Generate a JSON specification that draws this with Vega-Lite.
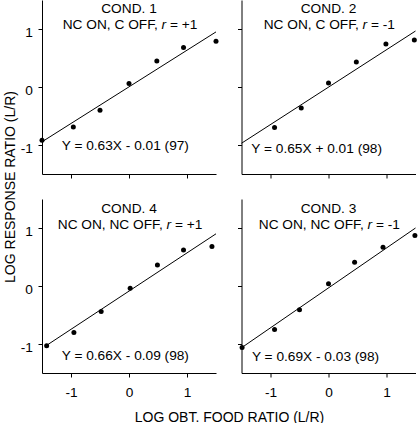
{
  "$schema": "https://vega.github.io/schema/vega-lite/v6.json",
  "padding": {"left": 3, "top": 0, "right": 0, "bottom": 0},
  "background": "white",
  "datasets": {
    "pts": [
      {"cond": 1, "x": -1.5, "y": -0.92}, {"cond": 1, "x": -0.96, "y": -0.69}, {"cond": 1, "x": -0.5, "y": -0.4}, {"cond": 1, "x": 0.0, "y": 0.06}, {"cond": 1, "x": 0.48, "y": 0.45}, {"cond": 1, "x": 0.94, "y": 0.68}, {"cond": 1, "x": 1.5, "y": 0.79},
      {"cond": 2, "x": -0.93, "y": -0.7}, {"cond": 2, "x": -0.47, "y": -0.36}, {"cond": 2, "x": 0.0, "y": 0.07}, {"cond": 2, "x": 0.48, "y": 0.43}, {"cond": 2, "x": 0.99, "y": 0.74}, {"cond": 2, "x": 1.48, "y": 0.81},
      {"cond": 4, "x": -1.42, "y": -1.03}, {"cond": 4, "x": -0.95, "y": -0.8}, {"cond": 4, "x": -0.48, "y": -0.44}, {"cond": 4, "x": 0.02, "y": -0.04}, {"cond": 4, "x": 0.49, "y": 0.36}, {"cond": 4, "x": 0.94, "y": 0.62}, {"cond": 4, "x": 1.43, "y": 0.68},
      {"cond": 3, "x": -1.49, "y": -1.06}, {"cond": 3, "x": -0.93, "y": -0.75}, {"cond": 3, "x": -0.5, "y": -0.41}, {"cond": 3, "x": 0.0, "y": 0.04}, {"cond": 3, "x": 0.45, "y": 0.41}, {"cond": 3, "x": 0.94, "y": 0.67}, {"cond": 3, "x": 1.49, "y": 0.87}
    ],
    "fit": [
      {"cond": 1, "x": -1.5, "y": -0.945}, {"cond": 1, "x": 1.5, "y": 0.95},
      {"cond": 2, "x": -1.5, "y": -0.97}, {"cond": 2, "x": 1.5, "y": 0.965},
      {"cond": 4, "x": -1.43, "y": -1.03}, {"cond": 4, "x": 1.5, "y": 0.9},
      {"cond": 3, "x": -1.5, "y": -1.065}, {"cond": 3, "x": 1.5, "y": 1.0}
    ],
    "lab": [
      {"cond": 1, "c": "COND. 1", "pre": "NC ON, C OFF,", "r": "r", "post": "= +1", "eq": "Y = 0.63X - 0.01 (97)"},
      {"cond": 2, "c": "COND. 2", "pre": "NC ON, C OFF,", "r": "r", "post": "= -1", "eq": "Y = 0.65X + 0.01 (98)"},
      {"cond": 4, "c": "COND. 4", "pre": "NC ON, NC OFF,", "r": "r", "post": "= +1", "eq": "Y = 0.66X - 0.09 (98)"},
      {"cond": 3, "c": "COND. 3", "pre": "NC ON, NC OFF,", "r": "r", "post": "= -1", "eq": "Y = 0.69X - 0.03 (98)"}
    ]
  },
  "config": {
    "view": {"stroke": null},
    "font": "Liberation Sans",
    "axis": {
      "domainColor": "black", "tickColor": "black", "labelColor": "black", "titleColor": "black",
      "labelFont": "Liberation Sans", "titleFont": "Liberation Sans",
      "labelFontSize": 13.7, "titleFontSize": 14, "titleFontWeight": "normal",
      "tickSize": 4, "grid": false, "domainWidth": 1, "tickWidth": 1
    },
    "axisX": {"labelPadding": 8.5},
    "axisY": {"labelPadding": 5.7, "labelOffset": 3},
    "text": {"font": "Liberation Sans", "fontSize": 13.7, "color": "black"}
  },
  "columns": 2,
  "spacing": {"row": 25, "column": 25.5},
  "bounds": "flush",
  "concat": [
    {
      "width": 174, "height": 174,
      "layer": [
        {"data": {"name": "fit"}, "transform": [{"filter": "datum.cond == 1"}], "mark": {"type": "line", "color": "black", "strokeWidth": 1},
         "encoding": {
           "x": {"field": "x", "type": "quantitative", "scale": {"domain": [-1.5, 1.5], "nice": false, "zero": false}, "axis": {"values": [-1, 0, 1], "labels": false, "title": null}},
           "y": {"field": "y", "type": "quantitative", "scale": {"domain": [-1.5, 1.5], "nice": false, "zero": false}, "axis": {"values": [-1, 0, 1], "labelExpr": "datum.value < 0 ? '-' + abs(datum.value) : '' + datum.value", "title": "LOG RESPONSE RATIO (L/R)", "titleX": -27.5, "titleY": 186.5, "titleBaseline": "alphabetic", "titleAngle": -90}}
         }},
        {"data": {"name": "pts"}, "transform": [{"filter": "datum.cond == 1"}], "mark": {"type": "circle", "color": "black", "opacity": 1, "size": 25},
         "encoding": {"x": {"field": "x", "type": "quantitative", "title": null}, "y": {"field": "y", "type": "quantitative", "title": "LOG RESPONSE RATIO (L/R)"}}},
        {"data": {"name": "lab"}, "transform": [{"filter": "datum.cond == 1"}], "mark": {"type": "text", "align": "center", "baseline": "alphabetic"}, "encoding": {"text": {"field": "c"}, "x": {"datum": 0}, "y": {"datum": 1.27}}},
        {"data": {"name": "lab"}, "transform": [{"filter": "datum.cond == 1"}], "mark": {"type": "text", "align": "right", "baseline": "alphabetic", "dx": 28.8}, "encoding": {"text": {"field": "pre"}, "x": {"datum": 0}, "y": {"datum": 0.995}}},
        {"data": {"name": "lab"}, "transform": [{"filter": "datum.cond == 1"}], "mark": {"type": "text", "align": "center", "baseline": "alphabetic", "fontStyle": "italic", "dx": 34.9}, "encoding": {"text": {"field": "r"}, "x": {"datum": 0}, "y": {"datum": 0.995}}},
        {"data": {"name": "lab"}, "transform": [{"filter": "datum.cond == 1"}], "mark": {"type": "text", "align": "left", "baseline": "alphabetic", "dx": 41.0}, "encoding": {"text": {"field": "post"}, "x": {"datum": 0}, "y": {"datum": 0.995}}},
        {"data": {"name": "lab"}, "transform": [{"filter": "datum.cond == 1"}], "mark": {"type": "text", "align": "left", "baseline": "alphabetic"}, "encoding": {"text": {"field": "eq"}, "x": {"datum": -1.16}, "y": {"datum": -1.086}}}
      ]
    },
    {
      "width": 174, "height": 174,
      "layer": [
        {"data": {"name": "fit"}, "transform": [{"filter": "datum.cond == 2"}], "mark": {"type": "line", "color": "black", "strokeWidth": 1},
         "encoding": {
           "x": {"field": "x", "type": "quantitative", "scale": {"domain": [-1.5, 1.5], "nice": false, "zero": false}, "axis": {"values": [-1, 0, 1], "labels": false, "title": null}},
           "y": {"field": "y", "type": "quantitative", "scale": {"domain": [-1.5, 1.5], "nice": false, "zero": false}, "axis": {"values": [-1, 0, 1], "labels": false, "title": null}}
         }},
        {"data": {"name": "pts"}, "transform": [{"filter": "datum.cond == 2"}], "mark": {"type": "circle", "color": "black", "opacity": 1, "size": 25},
         "encoding": {"x": {"field": "x", "type": "quantitative", "title": null}, "y": {"field": "y", "type": "quantitative", "title": null}}},
        {"data": {"name": "lab"}, "transform": [{"filter": "datum.cond == 2"}], "mark": {"type": "text", "align": "center", "baseline": "alphabetic"}, "encoding": {"text": {"field": "c"}, "x": {"datum": 0}, "y": {"datum": 1.27}}},
        {"data": {"name": "lab"}, "transform": [{"filter": "datum.cond == 2"}], "mark": {"type": "text", "align": "right", "baseline": "alphabetic", "dx": 30.3}, "encoding": {"text": {"field": "pre"}, "x": {"datum": 0}, "y": {"datum": 0.995}}},
        {"data": {"name": "lab"}, "transform": [{"filter": "datum.cond == 2"}], "mark": {"type": "text", "align": "center", "baseline": "alphabetic", "fontStyle": "italic", "dx": 36.4}, "encoding": {"text": {"field": "r"}, "x": {"datum": 0}, "y": {"datum": 0.995}}},
        {"data": {"name": "lab"}, "transform": [{"filter": "datum.cond == 2"}], "mark": {"type": "text", "align": "left", "baseline": "alphabetic", "dx": 42.5}, "encoding": {"text": {"field": "post"}, "x": {"datum": 0}, "y": {"datum": 0.995}}},
        {"data": {"name": "lab"}, "transform": [{"filter": "datum.cond == 2"}], "mark": {"type": "text", "align": "left", "baseline": "alphabetic"}, "encoding": {"text": {"field": "eq"}, "x": {"datum": -1.33}, "y": {"datum": -1.133}}}
      ]
    },
    {
      "width": 174, "height": 174,
      "layer": [
        {"data": {"name": "fit"}, "transform": [{"filter": "datum.cond == 4"}], "mark": {"type": "line", "color": "black", "strokeWidth": 1},
         "encoding": {
           "x": {"field": "x", "type": "quantitative", "scale": {"domain": [-1.5, 1.5], "nice": false, "zero": false}, "axis": {"values": [-1, 0, 1], "labelExpr": "datum.value < 0 ? '-' + abs(datum.value) : '' + datum.value", "title": "LOG OBT. FOOD RATIO (L/R)", "titleX": 187, "titleY": 48, "titleBaseline": "alphabetic", "titleAlign": "center"}},
           "y": {"field": "y", "type": "quantitative", "scale": {"domain": [-1.5, 1.5], "nice": false, "zero": false}, "axis": {"values": [-1, 0, 1], "labelExpr": "datum.value < 0 ? '-' + abs(datum.value) : '' + datum.value", "title": null}}
         }},
        {"data": {"name": "pts"}, "transform": [{"filter": "datum.cond == 4"}], "mark": {"type": "circle", "color": "black", "opacity": 1, "size": 25},
         "encoding": {"x": {"field": "x", "type": "quantitative", "title": "LOG OBT. FOOD RATIO (L/R)"}, "y": {"field": "y", "type": "quantitative", "title": null}}},
        {"data": {"name": "lab"}, "transform": [{"filter": "datum.cond == 4"}], "mark": {"type": "text", "align": "center", "baseline": "alphabetic"}, "encoding": {"text": {"field": "c"}, "x": {"datum": 0}, "y": {"datum": 1.26}}},
        {"data": {"name": "lab"}, "transform": [{"filter": "datum.cond == 4"}], "mark": {"type": "text", "align": "right", "baseline": "alphabetic", "dx": 33.7}, "encoding": {"text": {"field": "pre"}, "x": {"datum": 0}, "y": {"datum": 0.985}}},
        {"data": {"name": "lab"}, "transform": [{"filter": "datum.cond == 4"}], "mark": {"type": "text", "align": "center", "baseline": "alphabetic", "fontStyle": "italic", "dx": 39.8}, "encoding": {"text": {"field": "r"}, "x": {"datum": 0}, "y": {"datum": 0.985}}},
        {"data": {"name": "lab"}, "transform": [{"filter": "datum.cond == 4"}], "mark": {"type": "text", "align": "left", "baseline": "alphabetic", "dx": 45.9}, "encoding": {"text": {"field": "post"}, "x": {"datum": 0}, "y": {"datum": 0.985}}},
        {"data": {"name": "lab"}, "transform": [{"filter": "datum.cond == 4"}], "mark": {"type": "text", "align": "left", "baseline": "alphabetic"}, "encoding": {"text": {"field": "eq"}, "x": {"datum": -1.16}, "y": {"datum": -1.27}}}
      ]
    },
    {
      "width": 174, "height": 174,
      "layer": [
        {"data": {"name": "fit"}, "transform": [{"filter": "datum.cond == 3"}], "mark": {"type": "line", "color": "black", "strokeWidth": 1},
         "encoding": {
           "x": {"field": "x", "type": "quantitative", "scale": {"domain": [-1.5, 1.5], "nice": false, "zero": false}, "axis": {"values": [-1, 0, 1], "labelExpr": "datum.value < 0 ? '-' + abs(datum.value) : '' + datum.value", "title": null}},
           "y": {"field": "y", "type": "quantitative", "scale": {"domain": [-1.5, 1.5], "nice": false, "zero": false}, "axis": {"values": [-1, 0, 1], "labels": false, "title": null}}
         }},
        {"data": {"name": "pts"}, "transform": [{"filter": "datum.cond == 3"}], "mark": {"type": "circle", "color": "black", "opacity": 1, "size": 25},
         "encoding": {"x": {"field": "x", "type": "quantitative", "title": null}, "y": {"field": "y", "type": "quantitative", "title": null}}},
        {"data": {"name": "lab"}, "transform": [{"filter": "datum.cond == 3"}], "mark": {"type": "text", "align": "center", "baseline": "alphabetic"}, "encoding": {"text": {"field": "c"}, "x": {"datum": 0}, "y": {"datum": 1.26}}},
        {"data": {"name": "lab"}, "transform": [{"filter": "datum.cond == 3"}], "mark": {"type": "text", "align": "right", "baseline": "alphabetic", "dx": 35.2}, "encoding": {"text": {"field": "pre"}, "x": {"datum": 0}, "y": {"datum": 0.985}}},
        {"data": {"name": "lab"}, "transform": [{"filter": "datum.cond == 3"}], "mark": {"type": "text", "align": "center", "baseline": "alphabetic", "fontStyle": "italic", "dx": 41.3}, "encoding": {"text": {"field": "r"}, "x": {"datum": 0}, "y": {"datum": 0.985}}},
        {"data": {"name": "lab"}, "transform": [{"filter": "datum.cond == 3"}], "mark": {"type": "text", "align": "left", "baseline": "alphabetic", "dx": 47.4}, "encoding": {"text": {"field": "post"}, "x": {"datum": 0}, "y": {"datum": 0.985}}},
        {"data": {"name": "lab"}, "transform": [{"filter": "datum.cond == 3"}], "mark": {"type": "text", "align": "left", "baseline": "alphabetic"}, "encoding": {"text": {"field": "eq"}, "x": {"datum": -1.32}, "y": {"datum": -1.3}}}
      ]
    }
  ]
}
